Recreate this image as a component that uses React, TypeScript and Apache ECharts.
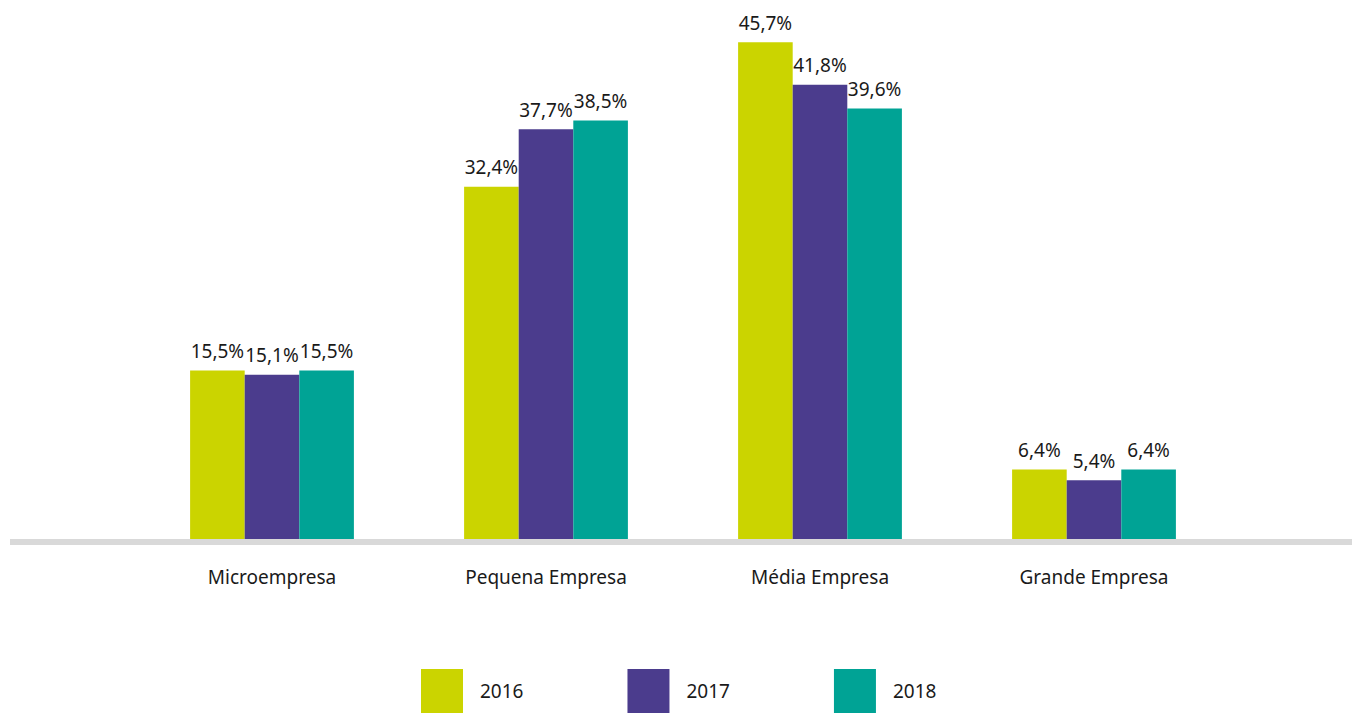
import React, { useEffect, useRef } from "react";
import * as echarts from "echarts";

const categories = ["Microempresa", "Pequena Empresa", "Média Empresa", "Grande Empresa"];
const seriesNames = ["2016", "2017", "2018"];
const values2016 = [15.5, 32.4, 45.7, 6.4];
const values2017 = [15.1, 37.7, 41.8, 5.4];
const values2018 = [15.5, 38.5, 39.6, 6.4];
const colors = ["#CBD400", "#4B3C8D", "#00A395"];

const FONT = "'Noto Sans', sans-serif";

export default function App() {
  const ref = useRef<HTMLDivElement>(null);
  useEffect(() => {
    if (!ref.current) return;
    const chart = echarts.init(ref.current, undefined, { renderer: "svg" });
    const allValues = [values2016, values2017, values2018];
    const fmt = (p: any) => `${Number(p.value).toFixed(1).replace(".", ",")}%`;
    chart.setOption({
      animation: false,
      textStyle: { fontFamily: FONT },
      grid: { left: 135, right: 121, top: 39, bottom: 174 },
      legend: {
        data: seriesNames,
        left: 421,
        top: 669,
        padding: 0,
        icon: "rect",
        itemWidth: 42,
        itemHeight: 44,
        itemGap: 104,
        textStyle: { fontFamily: FONT, fontSize: 19, color: "#1a1a1a", padding: [0, 0, 0, 12] },
      },
      graphic: [
        {
          type: "rect",
          shape: { x: 10, y: 539, width: 1342, height: 6 },
          style: { fill: "#d9d9d9" },
          z: 0,
        },
      ],
      xAxis: {
        type: "category",
        data: categories,
        axisLine: { show: false },
        axisTick: { show: false },
        axisLabel: { fontFamily: FONT, fontSize: 19, color: "#1a1a1a", margin: 28 },
      },
      yAxis: { type: "value", min: 0, max: 46, show: false, splitLine: { show: false } },
      series: seriesNames.map((name, i) => ({
        name,
        type: "bar",
        data: allValues[i],
        barWidth: 54.6,
        barGap: "0%",
        itemStyle: { color: colors[i] },
        z: 2,
        label: {
          show: true,
          position: "top",
          distance: 10,
          formatter: fmt,
          fontFamily: FONT,
          fontSize: 19,
          color: "#1a1a1a",
        },
      })),
    });
    return () => chart.dispose();
  }, []);
  return (
    <div
      ref={ref}
      style={{ position: "absolute", left: 0, top: 0, width: 1352, height: 713, overflow: "hidden", background: "#fff" }}
    />
  );
}
